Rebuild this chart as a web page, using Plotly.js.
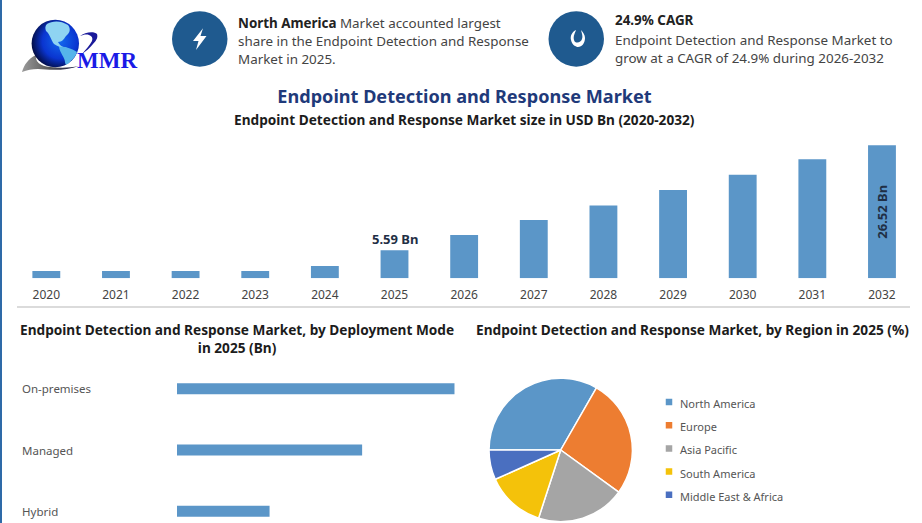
<!DOCTYPE html>
<html><head><meta charset="utf-8">
<script src="https://cdn.plot.ly/plotly-3.0.1.min.js"></script>
<style>html,body{margin:0;padding:0;background:#fff;overflow:hidden}#chart{width:922px;height:523px}</style>
</head><body><div id="chart"></div>
<script>
const years = ['2020','2021','2022','2023','2024','2025','2026','2027','2028','2029','2030','2031','2032'];
const marketSize = [1.45,1.45,1.45,1.45,2.45,5.59,8.63,11.6,14.5,17.6,20.6,23.7,26.52];
const modes = ['On-premises','Managed','Hybrid'];
const modeValues = [2.79,1.86,0.93];
const regions = ['North America','Europe','Asia Pacific','South America','Middle East & Africa'];
const regionShares = [33.3,26.7,20,13.3,6.7];
const regionColors = ['#5b96c8','#ed7d31','#a5a5a5','#f4c20a','#4a6fc0'];
const barColor = '#5b96c8';
const FONT = '"Noto Sans", "Open Sans", sans-serif';
const fx = p => p/922, fy = p => 1-p/523;

const logo = `<svg xmlns="http://www.w3.org/2000/svg" width="140" height="80" viewBox="0 0 140 80">
<defs><radialGradient id="g" cx="0.6" cy="0.45" r="0.62"><stop offset="0" stop-color="#1268ee"/><stop offset="0.6" stop-color="#0a35d0"/><stop offset="1" stop-color="#020a3c"/></radialGradient>
<linearGradient id="s" x1="0" x2="1"><stop offset="0" stop-color="#9a9a9a"/><stop offset="0.5" stop-color="#555"/><stop offset="1" stop-color="#101040"/></linearGradient></defs>
<path d="M22 72 C24 65 28 59 36 55 C35 62 40 66 50 67 C60 68 70 68 79 66 C66 71 50 70 38 69 C32 69 27 70 22 72Z" fill="url(#s)"/>
<circle cx="55.3" cy="43.5" r="23.7" fill="url(#g)"/>
<path d="M47 24 C52 21 60 20 68 25 C71 29 70 33 66 36 C64 39 62 42 58 42 C60 46 63 47 67 48 C62 49 58 46 54 44 C51 40 50 34 46 31 C45 28 45 26 47 24Z" fill="#8fd4f2"/>
<path d="M59 47 C64 46 71 48 77 52 C76 56 72 60 69 63 C67 65 65 65 65 62 C65 58 60 53 59 47Z" fill="#56b4ea"/>
<path d="M80 36 C85 32 94 31 97 34 C98 37 97 40 93 44 C90 48 86 51 82 54 C86 49 90 45 92 41 C93 38 92 36 89 35 C86 34 83 35 80 36Z" fill="#1a1a9a"/>
</svg>`;

const traces = [
 {type:'bar',x:years,y:marketSize,xaxis:'x',yaxis:'y',marker:{color:barColor},width:0.4,hoverinfo:'x+y',showlegend:false},
 {type:'bar',orientation:'h',x:modeValues,y:modes,xaxis:'x2',yaxis:'y2',marker:{color:barColor},width:0.18,hoverinfo:'x+y',showlegend:false},
 {type:'pie',labels:regions.map(r=>`<span style="font-size:11px;">${r}</span>`),values:regionShares,sort:false,direction:'clockwise',rotation:270,
  marker:{colors:regionColors,line:{color:'#fff',width:1.5}},textinfo:'none',hoverinfo:'label+percent',
  domain:{x:[fx(489),fx(632.4)],y:[fy(521.7),fy(378.3)]},showlegend:true}
];

const txt = (text,x,y,opts={}) => Object.assign({text,xref:'paper',yref:'paper',x:fx(x),y:fy(y),xanchor:'left',yanchor:'middle',showarrow:false,align:'left',
  font:{family:FONT,size:13.4,color:'#444'}},opts);
const head = {family:FONT,size:13.65,color:'#1c1c1c'};

const annotations = [
 txt('<b style="color:#222">North America</b> Market accounted largest',236,23),
 txt('share in the Endpoint Detection and Response',236,41),
 txt('Market in 2025.',236,59),
 txt('<b style="color:#222">24.9% CAGR</b>',613,20),
 txt('Endpoint Detection and Response Market to',613,40),
 txt('grow at a CAGR of 24.9% during 2026-2032',613,58),
 txt('MMR',75,60.5,{font:{family:'"Liberation Serif", serif',size:23,color:'#1a1ae6',weight:700}}),
 txt('<b>Endpoint Detection and Response Market size in USD Bn (2020-2032)</b>',464,120,{xanchor:'center',align:'center',font:head}),
 txt('<b>Endpoint Detection and Response Market, by Deployment Mode<br>in 2025 (Bn)</b>',236.5,338.5,{xanchor:'center',align:'center',font:head}),
 txt('<b>Endpoint Detection and Response Market, by Region in 2025 (%)</b>',692,329.5,{xanchor:'center',align:'center',font:head}),
 {text:'<b>5.59 Bn</b>',xref:'x',yref:'y',x:years.indexOf('2025'),y:marketSize[5],yshift:0,yanchor:'bottom',showarrow:false,font:{family:FONT,size:13,color:'#1f2f45'}},
 {text:'<b>26.52 Bn</b>',xref:'x',yref:'y',x:years.indexOf('2032'),y:marketSize[12]/2,textangle:-90,showarrow:false,font:{family:FONT,size:13,color:'#1f2f45'}},
 ...modes.map(m=>({text:m,xref:'paper',yref:'y2',x:fx(20),y:modes.indexOf(m),xanchor:'left',showarrow:false,font:{family:FONT,size:11.5,color:'#555'}}))
];

const shapes = [
 {type:'line',xref:'paper',yref:'paper',x0:fx(1),x1:fx(1),y0:0,y1:1,line:{color:'#2e6aa8',width:2}},
 {type:'line',xref:'paper',yref:'paper',x0:fx(17),x1:fx(910),y0:fy(307),y1:fy(307),line:{color:'#cfcfcf',width:1.5}},
 {type:'circle',xref:'paper',yref:'paper',x0:fx(172),x1:fx(227.5),y0:fy(66.7),y1:fy(11.2),fillcolor:'#1f5a8f',line:{width:0}},
 {type:'circle',xref:'paper',yref:'paper',x0:fx(548.5),x1:fx(604),y0:fy(66.7),y1:fy(11.2),fillcolor:'#1f5a8f',line:{width:0}}
];
const paperPath = pts => 'M'+pts.map(p=>fx(p[0])+','+fy(p[1])).join('L')+'Z';
shapes.push({type:'path',xref:'paper',yref:'paper',path:paperPath([[203,28.3],[193,41],[198.5,41],[196,50],[206.5,36],[200.5,36]]),fillcolor:'#fff',line:{width:0}});
const c = (a,b)=>fx(a)+','+fy(b);
shapes.push({type:'path',xref:'paper',yref:'paper',fillcolor:'#fff',line:{width:0},
 path:`M${c(576,30)}C${c(572,32)} ${c(570,36)} ${c(571,40)}C${c(572,45)} ${c(576,47)} ${c(578,47)}C${c(582,47)} ${c(585,43)} ${c(585,38)}C${c(585,35)} ${c(583,32)} ${c(581,30)}C${c(582,34)} ${c(583,36)} ${c(582,39)}C${c(581,43)} ${c(575,44)} ${c(574,40)}C${c(573,36)} ${c(575,33)} ${c(576,30)}Z`});

const layout = {
 width:922,height:523,margin:{l:0,r:0,t:0,b:0},paper_bgcolor:'#fff',plot_bgcolor:'#fff',font:{family:FONT},
 title:{text:'<b>Endpoint Detection and Response Market</b>',x:fx(464.5),y:fy(96.5),xref:'paper',yref:'paper',xanchor:'center',yanchor:'middle',font:{family:FONT,size:18.1,color:'#1f3a7a'}},
 xaxis:{domain:[fx(11.5),fx(916.8)],type:'category',categoryorder:'array',categoryarray:years,range:[-0.5,12.5],showgrid:false,zeroline:false,showline:false,ticks:'',ticklabelstandoff:8,tickfont:{family:FONT,size:12,color:'#444'},anchor:'y',fixedrange:true},
 yaxis:{domain:[fy(278.3),fy(137.7)],range:[0,28],visible:false,anchor:'x',fixedrange:true},
 xaxis2:{domain:[fx(177),fx(454.7)],range:[0,2.79],visible:false,anchor:'y2',fixedrange:true},
 yaxis2:{domain:[0,fy(358.8)],type:'category',categoryorder:'array',categoryarray:modes,range:[2.19,-0.49],visible:false,anchor:'x2',fixedrange:true},
 legend:{x:fx(640),y:fy(385.5),xanchor:'left',yanchor:'top',bgcolor:'rgba(0,0,0,0)',font:{family:FONT,size:15.5,color:'#555'},itemclick:false,itemdoubleclick:false},
 annotations,shapes,
 images:[{source:'data:image/svg+xml;base64,'+btoa(logo),xref:'paper',yref:'paper',x:0,y:1,sizex:140/922,sizey:80/523,sizing:'stretch',xanchor:'left',yanchor:'top',layer:'below'}]
};
Plotly.newPlot('chart',traces,layout,{displayModeBar:false}).then(()=>{
 document.querySelectorAll('.legendpie').forEach(p=>p.setAttribute('d','M13,4H5V-4H13Z'));
});
</script></body></html>
